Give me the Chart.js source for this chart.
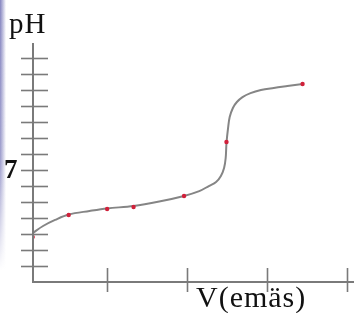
<!DOCTYPE html>
<html>
<head>
<meta charset="utf-8">
<script src="https://cdn.jsdelivr.net/npm/chart.js@4"></script>
<style>
  html, body { margin: 0; padding: 0; background: #fff; }
  #wrap { width: 358px; height: 313px; }
</style>
</head>
<body>
<div id="wrap"><canvas id="chart"></canvas></div>
<script>
// titration curve (V in tick units, pH)
const curveV = [0.07, 0.2, 0.35, 0.52, 0.78, 1.0, 1.33, 1.65, 1.96, 2.15, 2.27, 2.36, 2.42, 2.46, 2.48, 2.49, 2.51, 2.53, 2.57, 2.62, 2.69, 2.79, 2.92, 3.08, 3.25, 3.44];
const curvePH = [3.06, 3.5, 3.88, 4.22, 4.44, 4.6, 4.75, 5.03, 5.38, 5.68, 6.0, 6.25, 6.63, 7.13, 7.75, 8.69, 9.63, 10.31, 10.88, 11.25, 11.56, 11.81, 12.0, 12.13, 12.25, 12.38];
// measured points (red dots)
const pointV = [0.07, 0.52, 1.0, 1.33, 1.96, 2.49, 3.44];
const pointPH = [2.81, 4.19, 4.56, 4.69, 5.38, 8.75, 12.38];
const yTicks = [1, 2, 3, 4, 5, 6, 7, 8, 9, 10, 11, 12, 13, 14];
const xTicks = [1, 2, 3, 4];

const axisColor = "#7a7a7a";

const axesPlugin = {
  id: "handAxes",
  beforeDraw(chart) {
    const c = chart.ctx;
    const g = c.createLinearGradient(0, 0, 6, 0);
    g.addColorStop(0, "rgba(100,100,175,0.8)");
    g.addColorStop(1, "rgba(100,100,175,0)");
    const v = c.createLinearGradient(0, 0, 0, 270);
    v.addColorStop(0, "rgba(255,255,255,0)");
    v.addColorStop(0.6, "rgba(255,255,255,0.2)");
    v.addColorStop(1, "rgba(255,255,255,1)");
    c.save();
    c.fillStyle = g;
    c.fillRect(0, 0, 6, 270);
    c.fillStyle = v;
    c.fillRect(0, 0, 6, 270);
    c.restore();
  },
  afterDatasetsDraw(chart) {
    const c = chart.ctx;
    const x = chart.scales.x, y = chart.scales.y;
    const x0 = x.getPixelForValue(x.min), y0 = y.getPixelForValue(0);
    c.save();
    c.strokeStyle = axisColor;
    c.lineWidth = 2;
    c.beginPath();
    c.moveTo(x0, y.getPixelForValue(y.max));
    c.lineTo(x0, y0);
    c.lineTo(x.getPixelForValue(x.max), y0);
    c.stroke();
    c.lineWidth = 1.6;
    yTicks.forEach(v => {
      const py = Math.round(y.getPixelForValue(v)) + 0.5;
      c.beginPath();
      c.moveTo(x0 - 12, py);
      c.lineTo(x0 + 15, py);
      c.stroke();
    });
    xTicks.forEach(v => {
      const px = Math.round(x.getPixelForValue(v)) + 0.5;
      c.beginPath();
      c.moveTo(px, y0 - 14);
      c.lineTo(px, y0 + 10);
      c.stroke();
    });
    c.fillStyle = "#111";
    c.textBaseline = "alphabetic";
    c.font = "30px 'DejaVu Serif'";
    c.letterSpacing = "0px";
    c.font = "29px 'Liberation Serif'";
    c.letterSpacing = "1px";
    c.fillText("pH", 9, 33);
    c.letterSpacing = "0px";
    c.font = "bold 27px 'Liberation Serif'";
    c.fillText("7", 4, 178);
    c.font = "30px 'Liberation Serif'";
    c.letterSpacing = "1px";
    c.fillText("V(emäs)", 196, 307);
    c.restore();
  }
};

new Chart(document.getElementById("chart"), {
  type: "scatter",
  data: {
    datasets: [
      {
        label: "curve",
        data: curveV.map((v, i) => ({ x: v, y: curvePH[i] })),
        showLine: true,
        borderColor: "#858585",
        borderWidth: 2,
        pointRadius: 0,
        tension: 0.35,
        order: 2,
      },
      {
        label: "points",
        data: pointV.map((v, i) => ({ x: v, y: pointPH[i] })),
        backgroundColor: "#d0203a",
        borderWidth: 0,
        pointRadius: 2.2,
        order: 1,
      },
    ],
  },
  options: {
    responsive: true,
    maintainAspectRatio: false,
    animation: false,
    layout: { padding: { left: 33, right: 2, top: 43, bottom: 31 } },
    scales: {
      x: { type: "linear", display: false, min: 0.0744, max: 4.082 },
      y: { display: false, min: 0, max: 14.94 },
    },
    plugins: {
      legend: { display: false },
      tooltip: { enabled: false },
    },
  },
  plugins: [axesPlugin],
});
</script>
</body>
</html>
